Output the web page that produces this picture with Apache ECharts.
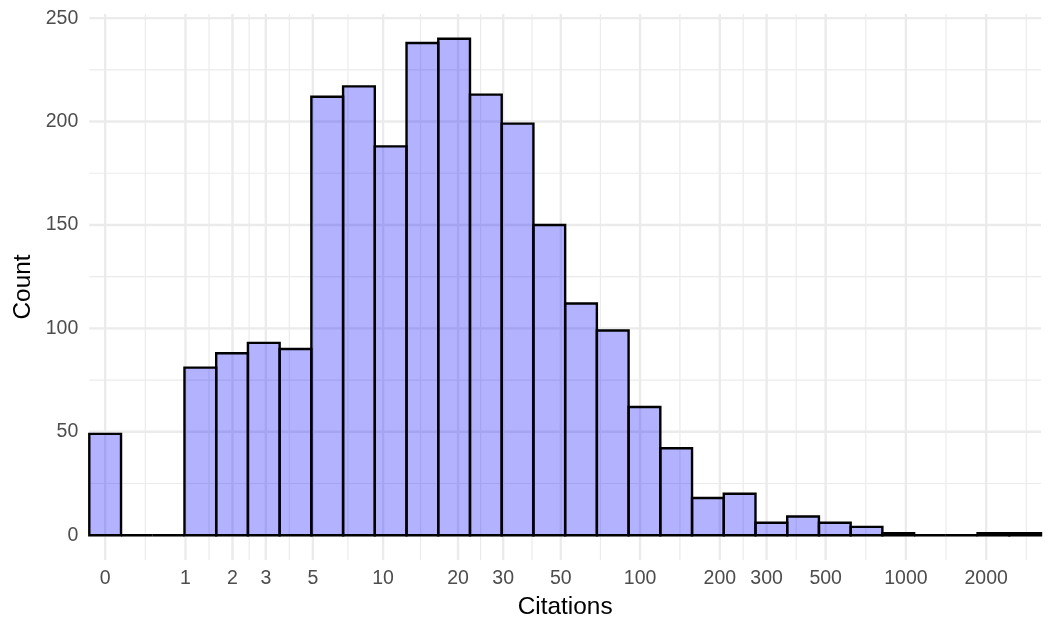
<!DOCTYPE html>
<html><head><meta charset="utf-8">
<script src="https://cdn.jsdelivr.net/npm/echarts@6/dist/echarts.min.js"></script>
<style>html,body{margin:0;padding:0;background:#fff}#c{width:1051px;height:619px}</style>
</head><body><div id="c"></div>
<script>
// ---- data ----
const xTickLabels = [0, 1, 2, 3, 5, 10, 20, 30, 50, 100, 200, 300, 500, 1000, 2000];
const counts = [49, 0, 0, 81, 88, 93, 90, 212, 217, 188, 238, 240, 213, 199, 150, 112, 99, 62, 42, 18, 20, 6, 9, 6, 4, 1, 0, 0, 1, 1];
const maxCitations = 2800;
const yTickLabels = [0, 50, 100, 150, 200, 250];
const yMinorTicks = [25, 75, 125, 175, 225];

// ---- log10(x + 1) transform (pseudo-log scale) ----
const t = v => Math.log10(v + 1);
const nBins = counts.length;
const binW = t(maxCitations) / (nBins - 1);
const xMin = -binW / 2, xMax = (nBins - 0.5) * binW;
const yMaxData = Math.max(...counts);
const yMin = -0.05 * yMaxData, yMax = 1.05 * yMaxData;

const majorX = xTickLabels.map(t);
const minorX = [];
for (let i = 0; i < majorX.length - 1; i++) minorX.push((majorX[i] + majorX[i + 1]) / 2);
minorX.push(majorX[majorX.length - 1] + (majorX[majorX.length - 1] - majorX[majorX.length - 2]) / 2);

const gridData = [];
minorX.forEach(v => gridData.push([0, v, 0]));
yMinorTicks.forEach(v => gridData.push([1, v, 0]));
majorX.forEach(v => gridData.push([0, v, 1]));
yTickLabels.forEach(v => gridData.push([1, v, 1]));

const barData = counts.map((c, i) => [i * binW, c]);

const font = 'Liberation Sans, Arial, Helvetica, sans-serif';
const chart = echarts.init(document.getElementById('c'), null, {renderer: 'canvas'});
chart.setOption({
  animation: false,
  backgroundColor: '#fff',
  grid: {left: 89.3, right: 10, top: 14, bottom: 59, containLabel: false, outerBoundsMode: 'none'},
  xAxis: {
    type: 'value', min: xMin, max: xMax,
    name: 'Citations', nameLocation: 'middle', nameGap: 35,
    nameTextStyle: {color: '#000', fontSize: 24.4, fontFamily: font},
    axisLine: {show: false}, axisTick: {show: false}, splitLine: {show: false},
    axisLabel: {
      customValues: majorX, margin: 9, color: '#4D4D4D', fontSize: 19.5, fontFamily: font,
      formatter: v => String(Math.round(Math.pow(10, v) - 1))
    }
  },
  yAxis: {
    type: 'value', min: yMin, max: yMax,
    name: 'Count', nameLocation: 'middle', nameGap: 52, nameRotate: 90,
    nameTextStyle: {color: '#000', fontSize: 24.4, fontFamily: font},
    axisLine: {show: false}, axisTick: {show: false}, splitLine: {show: false},
    axisLabel: {customValues: yTickLabels, margin: 11, color: '#4D4D4D', fontSize: 19.5, fontFamily: font}
  },
  series: [
    {
      type: 'custom', silent: true, z: 1,
      encode: {x: 1, y: 1},
      data: gridData,
      renderItem: (params, api) => {
        const cs = params.coordSys;
        const dir = api.value(0), v = api.value(1), major = api.value(2);
        const lw = major ? 2.4 : 1.2;
        if (dir === 0) {
          const x = api.coord([v, 0])[0];
          return {type: 'line', shape: {x1: x, y1: cs.y, x2: x, y2: cs.y + cs.height},
            style: {stroke: '#EBEBEB', lineWidth: lw}};
        }
        const y = api.coord([0, v])[1];
        return {type: 'line', shape: {x1: cs.x, y1: y, x2: cs.x + cs.width, y2: y},
          style: {stroke: '#EBEBEB', lineWidth: lw}};
      }
    },
    {
      type: 'custom', silent: true, z: 2,
      encode: {x: 0, y: 1},
      data: barData,
      renderItem: (params, api) => {
        const c = api.value(0), h = api.value(1);
        const p1 = api.coord([c - binW / 2, h]);
        const p2 = api.coord([c + binW / 2, 0]);
        return {type: 'rect', shape: {x: p1[0], y: p1[1], width: p2[0] - p1[0], height: p2[1] - p1[1]},
          style: {fill: 'rgba(0,0,255,0.3)', stroke: '#000', lineWidth: 2.4}};
      }
    }
  ]
});
</script></body></html>
